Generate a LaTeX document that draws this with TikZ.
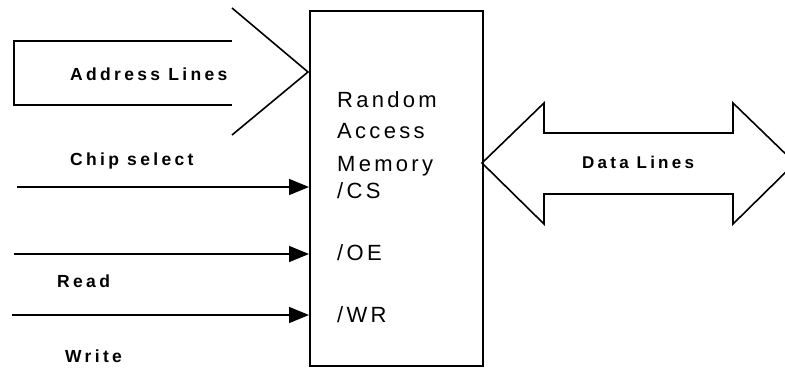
\documentclass[tikz,border=0pt]{standalone}
\usepackage{fontspec}
\setmainfont{Liberation Sans}
\newfontfamily\lblfont[LetterSpace=19]{Liberation Sans}
\newfontfamily\ramfont[LetterSpace=15]{Liberation Sans}
\usetikzlibrary{arrows.meta}
\tikzset{
  wire/.style={line width=1.6pt},
  sig/.style={line width=1.6pt, -{Triangle[length=20pt,width=16pt]}},
  lbl/.style={inner sep=0pt, anchor=base west, font=\lblfont\bfseries\fontsize{17.5}{20}\selectfont},
  ramtxt/.style={inner sep=0pt, anchor=base west, font=\ramfont\fontsize{22}{24}\selectfont},
}
\begin{document}
\begin{tikzpicture}[x=1pt,y=-1pt]
\useasboundingbox (0,0) rectangle (785,369);
\clip (0,0) rectangle (785,369);
% RAM box
\node[draw, line width=1.6pt, minimum width=173pt, minimum height=355pt,
      anchor=north west, inner sep=0pt] (ram) at (309,10) {};
\node[ramtxt] (t1) at (337,107) {Random};
\node[ramtxt] (t2) at (337,138) {Access};
\node[ramtxt] (t3) at (337,171) {Memory};
\node[ramtxt] (t4) at (337,198) {/CS};
\node[ramtxt] (t5) at (337,260) {/OE};
\node[ramtxt] (t6) at (337,322) {/WR};
% Address lines arrow
\draw[wire] (232,41) -- (14,41) -- (14,105) -- (232,105);
\draw[wire] (232,8) -- (308,72) -- (232,135);
\node[lbl] (addr) at (70,81) {Address Lines};
% Data lines double arrow
\draw[wire] (482,163) -- (544,103) -- (544,133) -- (733,133) -- (733,103)
  -- (795,163) -- (733,224) -- (733,194) -- (544,194) -- (544,224) -- cycle;
\node[lbl, font=\lblfont\bfseries\fontsize{17}{18}\selectfont] (data) at (582,168) {Data Lines};
% signals
\coordinate (cs) at (17,187);
\coordinate (oe) at (14,254);
\coordinate (wr) at (12,315);
\draw[sig] (cs) -- (cs -| ram.west);
\draw[sig] (oe) -- (oe -| ram.west);
\draw[sig] (wr) -- (wr -| ram.west);
\node[lbl] (chip) at (70,165) {Chip select};
\node[lbl] (read) at (57,287) {Read};
\node[lbl] (write) at (65,362) {Write};
\end{tikzpicture}
\end{document}
